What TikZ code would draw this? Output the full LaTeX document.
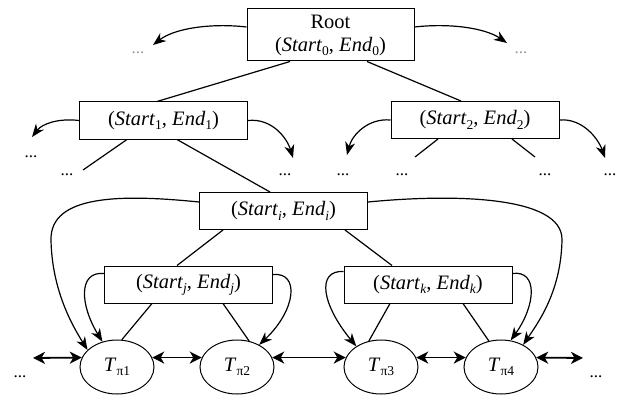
\documentclass[tikz,border=0pt]{standalone}
\usepackage{fontspec}
\setmainfont{Liberation Serif}
\usetikzlibrary{arrows.meta,shapes.geometric}
\newcommand{\lowsub}[1]{\raisebox{-0.2em}{\fontsize{13.5}{13.5}\selectfont #1}}
\newcommand{\pair}[1]{(\textit{Start}\lowsub{#1}, \textit{End}\lowsub{#1})}
\newcommand{\tpi}[1]{\textit{T}\lowsub{π#1}}
\begin{document}
\begin{tikzpicture}[x=1pt,y=-1pt,
  every node/.style={font=\fontsize{20.5}{23}\selectfont},
  box/.style={draw, line width=1pt, minimum width=168pt, minimum height=37pt, inner sep=0pt},
  tnode/.style={draw, ellipse, line width=1pt, minimum width=74pt, minimum height=54pt, inner sep=0pt},
  edge/.style={line width=1.2pt},
  arr/.style={line width=1.2pt, -{Stealth[length=13pt,width=10pt,inset=4pt]}},
  dbl/.style={line width=1.8pt, {Stealth[length=12pt,width=12pt,inset=3.5pt]}-{Stealth[length=12pt,width=12pt,inset=3.5pt]}},
  dots/.style={inner sep=0pt, font=\fontsize{17}{17}\selectfont},
  faint/.style={dots, text=black!40}]
\useasboundingbox (0,0) rectangle (619,396);
% nodes
\node[box, minimum width=167pt, minimum height=52pt, align=center] (root) at (330.5,35) {Root\\\pair{0}};
\node[box] (b1) at (163.5,120.5) {\pair{1}};
\node[box] (b2) at (475,120) {\pair{2}};
\node[box] (bi) at (283.5,211) {\pair{\textit{i}}};
\node[box] (bj) at (188.5,284.5) {\pair{\textit{j}}};
\node[box] (bk) at (428,284.5) {\pair{\textit{k}}};
\node[tnode] (t1) at (117,367) {\tpi{1}};
\node[tnode] (t2) at (237,367) {\tpi{2}};
\node[tnode] (t3) at (381,367) {\tpi{3}};
\node[tnode] (t4) at (501,367) {\tpi{4}};
% dots
\node[faint] (d0) at (138,53) {...};
\node[faint] (d1) at (521,53) {...};
\node[dots] (d2) at (31,157) {...};
\node[dots] (d3) at (67,175) {...};
\node[dots] (d4) at (285,175) {...};
\node[dots] (d5) at (343,175) {...};
\node[dots] (d6) at (402,175) {...};
\node[dots] (d7) at (545,175) {...};
\node[dots] (d8) at (610,175) {...};
\node[dots] (d9) at (20,377) {...};
\node[dots] (d10) at (596,377) {...};
% free ends
\coordinate (rl) at (153,45);
\coordinate (rr) at (507,43);
\coordinate (l1a) at (32,137);
\coordinate (l1b) at (83,170);
\coordinate (l1c) at (293,158);
\coordinate (l2a) at (347,155);
\coordinate (l2b) at (415,157);
\coordinate (l2c) at (535,157);
\coordinate (l2d) at (605,158);
\coordinate (ol) at (33,358);
\coordinate (or) at (583,358);
% tree edges
\draw[edge] ([xshift=-40.5pt]root.south) -- ([xshift=-6.5pt]b1.north);
\draw[edge] ([xshift=36.5pt]root.south) -- ([xshift=-14pt]b2.north);
\draw[edge] ([xshift=-36.5pt]b1.south) -- (l1b);
\draw[edge] ([xshift=13.5pt]b1.south) -- ([xshift=-13.5pt]bi.north);
\draw[edge] ([xshift=-37pt]b2.south) -- (l2b);
\draw[edge] ([xshift=37pt]b2.south) -- (l2c);
\draw[edge] ([xshift=-60.5pt]bi.south) -- ([xshift=-11.5pt]bj.north);
\draw[edge] ([xshift=61.5pt]bi.south) -- ([xshift=-36pt]bk.north);
\draw[edge] ([xshift=-36.5pt]bj.south) -- (t1.80);
\draw[edge] ([xshift=34.5pt]bj.south) -- (t2.65);
\draw[edge] ([xshift=-38pt]bk.south) -- (t3.115);
\draw[edge] ([xshift=35pt]bk.south) -- (t4.115);
% curved arrows
\draw[arr] ([yshift=8pt]root.west) .. controls (212,23) and (175,28) .. (rl);
\draw[arr] ([yshift=8pt]root.east) .. controls (450,23) and (485,28) .. (rr);
\draw[arr] (b1.west) .. controls (58,118) and (42,124) .. (l1a);
\draw[arr] (b1.east) .. controls (272,118) and (287,138) .. (l1c);
\draw[arr] (b2.west) .. controls (368,118) and (352,135) .. (l2a);
\draw[arr] (b2.east) .. controls (582,118) and (598,138) .. (l2d);
\draw[arr] ([yshift=9pt]bi.west) .. controls (120,194) and (50,195) .. (51,240) .. controls (52,290) and (72,325) .. (t1.150);
\draw[arr] ([yshift=9pt]bi.east) .. controls (450,194) and (563,195) .. (562,240) .. controls (561,290) and (540,320) .. (t4.45);
\draw[arr] ([yshift=11pt]bj.west) .. controls (78,271) and (80,305) .. (t1.120);
\draw[arr] ([yshift=10pt]bj.east) .. controls (300,272) and (296,310) .. (t2.45);
\draw[arr] ([yshift=13pt]bk.west) .. controls (316,270) and (322,305) .. (t3.140);
\draw[arr] ([yshift=11pt]bk.east) .. controls (538,270) and (536,305) .. (t4.70);
% sibling links
\draw[dbl] (ol) -- (t1.165);
\draw[dbl] (t1.15) -- (t2.165);
\draw[dbl] (t2.15) -- (t3.165);
\draw[dbl] (t3.15) -- (t4.165);
\draw[dbl] (t4.15) -- (or);
\end{tikzpicture}
\end{document}
